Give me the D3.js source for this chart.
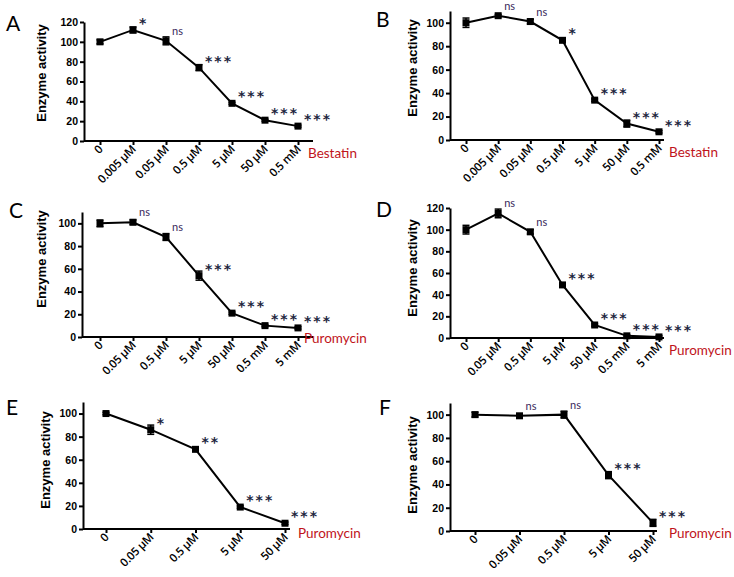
<!DOCTYPE html>
<html><head><meta charset="utf-8">
<script src="https://cdn.jsdelivr.net/npm/d3@7"></script>
<style>body{margin:0;background:#fff}svg{display:block}</style>
</head><body><svg id="c" width="734" height="577"></svg>
<script>
// ---- data ----
const catsA = ["0","0.005 µM","0.05 µM","0.5 µM","5 µM","50 µM","0.5 mM"];
const valsA = [100,112,101,74,38,21,15];
const errsA = [2,3,4,3,1,1,1];
const sigsA = ["","*","ns","***","***","***","***"];

const catsB = ["0","0.005 µM","0.05 µM","0.5 µM","5 µM","50 µM","0.5 mM"];
const valsB = [100,106,101,85,34,14,7];
const errsB = [4,1,2,1,1,3,1];
const sigsB = ["","ns","ns","*","***","***","***"];

const catsC = ["0","0.05 µM","0.5 µM","5 µM","50 µM","0.5 mM","5 mM"];
const valsC = [100,101,88,54,21,10,8];
const errsC = [3,2,3,4,1,1,1];
const sigsC = ["","ns","ns","***","***","***","***"];

const catsD = ["0","0.05 µM","0.5 µM","5 µM","50 µM","0.5 mM","5 mM"];
const valsD = [100,115,98,49,12,2,1];
const errsD = [4,4,2,2,1,1,1];
const sigsD = ["","ns","ns","***","***","***","***"];

const catsE = ["0","0.05 µM","0.5 µM","5 µM","50 µM"];
const valsE = [100,86,69,19,5];
const errsE = [1,4,1,1,1];
const sigsE = ["","*","**","***","***"];

const catsF = ["0","0.05 µM","0.5 µM","5 µM","50 µM"];
const valsF = [100,99,100,48,7];
const errsF = [2,1,3,3,3];
const sigsF = ["","ns","ns","***","***"];

const yTicks120 = [0,20,40,60,80,100,120];
const yTicks100 = [0,20,40,60,80,100];
const panelLetters = ["A","B","C","D","E","F"];
const drugNames = ["Bestatin","Bestatin","Puromycin","Puromycin","Puromycin","Puromycin"];
const yTitle = "Enzyme activity";

// ---- layout (pixels) ----
const panels = [
  {cats:catsA, vals:valsA, errs:errsA, sigs:sigsA, ticks:yTicks120, yMax:120,
   ax:84, x0:100, x1:298, xEnd:313, y0:141, yTop:22, letter:[6,31], title:[46,73], drug:[308,158]},
  {cats:catsB, vals:valsB, errs:errsB, sigs:sigsB, ticks:yTicks100, yMax:110,
   ax:450, x0:466, x1:659, xEnd:664, y0:140, yTop:11, letter:[376,27], title:[417,68], drug:[669,157]},
  {cats:catsC, vals:valsC, errs:errsC, sigs:sigsC, ticks:yTicks100, yMax:110,
   ax:82, x0:100, x1:298, xEnd:313, y0:337, yTop:212, letter:[9,218], title:[46,259], drug:[304,343]},
  {cats:catsD, vals:valsD, errs:errsD, sigs:sigsD, ticks:yTicks120, yMax:120,
   ax:450, x0:466, x1:659, xEnd:664, y0:338, yTop:208, letter:[376,217], title:[417,268], drug:[669,355]},
  {cats:catsE, vals:valsE, errs:errsE, sigs:sigsE, ticks:yTicks100, yMax:110,
   ax:83, x0:106, x1:285, xEnd:290, y0:529, yTop:402, letter:[6,415], title:[50,460], drug:[298,538]},
  {cats:catsF, vals:valsF, errs:errsF, sigs:sigsF, ticks:yTicks100, yMax:110,
   ax:450, x0:475, x1:653, xEnd:657, y0:531, yTop:403, letter:[379,415], title:[417,465], drug:[669,538]}
];

const svg = d3.select("#c");
const SANS = "'Liberation Sans', Arial, sans-serif";
const CAL = "Lato, 'Open Sans', sans-serif";
const TICK = "'Open Sans', 'Noto Sans', sans-serif";
const STAR = "'DejaVu Sans', sans-serif";

panels.forEach((p, i) => {
  const g = svg.append("g");
  const x = d3.scalePoint().domain(p.cats).range([p.x0, p.x1]);
  const y = d3.scaleLinear().domain([0, p.yMax]).range([p.y0, p.yTop]);

  // y axis
  const ya = g.append("g").attr("transform", `translate(${p.ax},0)`)
    .call(d3.axisLeft(y).tickValues(p.ticks).tickSize(4).tickSizeOuter(0).tickPadding(2));
  ya.select(".domain").attr("stroke", "#000").attr("stroke-width", 2);
  ya.selectAll(".tick line").attr("stroke", "#000").attr("stroke-width", 2);
  ya.selectAll(".tick text").attr("font-family", SANS).attr("font-weight", "bold")
    .attr("font-size", 10.5).attr("fill", "#000");

  // x axis
  const xa = g.append("g").attr("transform", `translate(0,${p.y0})`)
    .call(d3.axisBottom(x).tickSize(4).tickSizeOuter(0));
  xa.select(".domain").remove();
  xa.append("line").attr("x1", p.ax).attr("x2", p.xEnd).attr("y1", 0).attr("y2", 0)
    .attr("stroke", "#000").attr("stroke-width", 2);
  xa.selectAll(".tick line").attr("stroke", "#000").attr("stroke-width", 2);
  xa.selectAll(".tick text")
    .attr("x", 0).attr("y", 0).attr("dy", 0)
    .attr("transform", "translate(3,9) rotate(-45)")
    .attr("text-anchor", "end")
    .attr("font-family", TICK).attr("font-size", 11.5).attr("font-weight", 600)
    .attr("letter-spacing", -0.3).attr("fill", "#000");

  // line
  const pts = p.cats.map((c, k) => ({c, v: p.vals[k], e: p.errs[k], s: p.sigs[k]}));
  g.append("path").datum(pts)
    .attr("d", d3.line().x(d => x(d.c)).y(d => y(d.v)))
    .attr("fill", "none").attr("stroke", "#000").attr("stroke-width", 2);

  // error bars
  const eb = g.append("g").selectAll("g").data(pts).join("g");
  eb.append("line").attr("x1", d => x(d.c)).attr("x2", d => x(d.c))
    .attr("y1", d => y(d.v - d.e)).attr("y2", d => y(d.v + d.e))
    .attr("stroke", "#000").attr("stroke-width", 1.5);
  eb.append("line").attr("x1", d => x(d.c) - 3.5).attr("x2", d => x(d.c) + 3.5)
    .attr("y1", d => y(d.v + d.e)).attr("y2", d => y(d.v + d.e))
    .attr("stroke", "#000").attr("stroke-width", 1.5);
  eb.append("line").attr("x1", d => x(d.c) - 3.5).attr("x2", d => x(d.c) + 3.5)
    .attr("y1", d => y(d.v - d.e)).attr("y2", d => y(d.v - d.e))
    .attr("stroke", "#000").attr("stroke-width", 1.5);

  // markers
  g.append("g").selectAll("rect").data(pts).join("rect")
    .attr("x", d => x(d.c) - 3.5).attr("y", d => y(d.v) - 3.5)
    .attr("width", 7).attr("height", 7).attr("fill", "#000");

  // significance labels
  g.append("g").selectAll("text").data(pts.filter(d => d.s)).join("text")
    .attr("x", d => x(d.c) + 6)
    .attr("y", d => d.s === "ns" ? y(d.v) - 6 : y(d.v) - 2)
    .attr("font-family", d => d.s === "ns" ? CAL : STAR)
    .attr("font-weight", d => d.s === "ns" ? "normal" : "bold")
    .attr("font-size", d => d.s === "ns" ? 11 : 14)
    .attr("letter-spacing", d => d.s === "ns" ? 0 : 2)
    .attr("fill", d => d.s === "ns" ? "#3a2a5c" : "#1d2640")
    .text(d => d.s);

  // panel letter
  g.append("text").attr("x", p.letter[0]).attr("y", p.letter[1])
    .attr("font-family", CAL).attr("font-size", 21).attr("fill", "#000")
    .text(panelLetters[i]);

  // y title
  g.append("text").attr("transform", `translate(${p.title[0]},${p.title[1]}) rotate(-90)`)
    .attr("text-anchor", "middle").attr("font-family", SANS).attr("font-weight", "bold")
    .attr("font-size", 13).attr("fill", "#000").text(yTitle);

  // drug name
  g.append("text").attr("x", p.drug[0]).attr("y", p.drug[1])
    .attr("font-family", CAL).attr("font-size", 13.5).attr("fill", "#c0141b")
    .text(drugNames[i]);
});
</script>
</body></html>
